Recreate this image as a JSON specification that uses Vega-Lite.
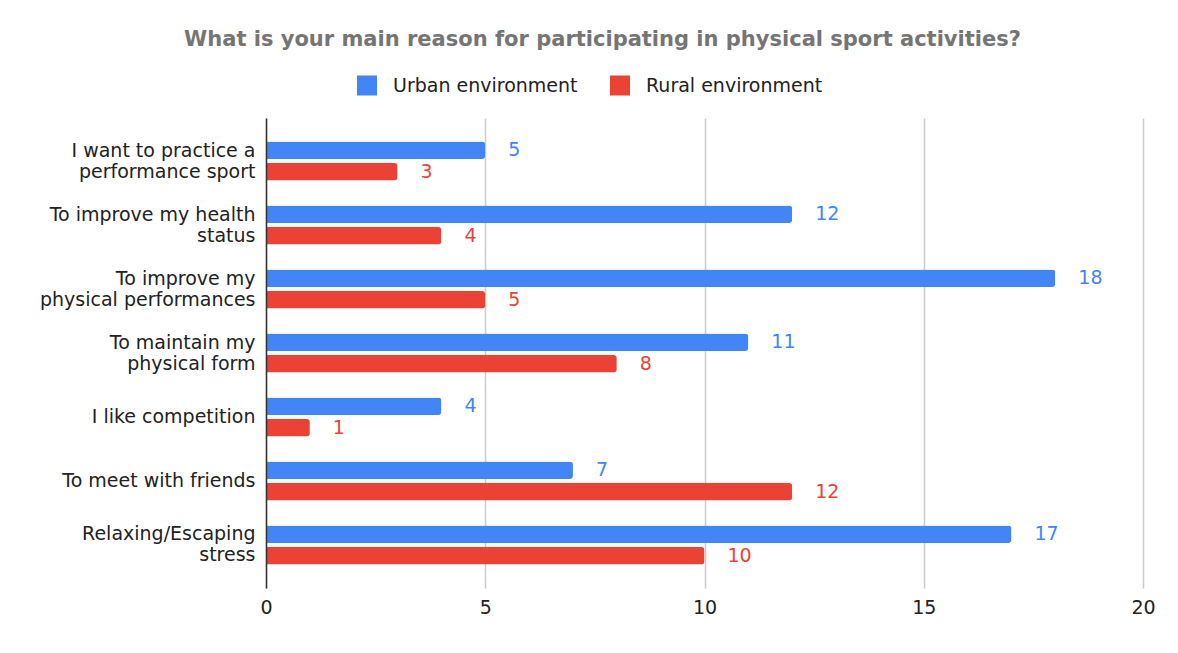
{
  "$schema": "https://vega.github.io/schema/vega-lite/v6.json",
  "width": 877,
  "height": 470,
  "autosize": {"type": "none"},
  "padding": {"left": 266, "top": 118, "right": 35, "bottom": 65},
  "background": "white",
  "config": {"view": {"stroke": null}},
  "title": {
    "text": "What is your main reason for participating in physical sport activities?",
    "anchor": "middle",
    "frame": "group",
    "dx": -102,
    "offset": 8.5,
    "baseline": "alphabetic",
    "font": "DejaVu Sans",
    "fontSize": 21,
    "fontWeight": "bold",
    "color": "#757575"
  },
  "data": {
    "values": [
      {"reason": "I want to practice a performance sport", "environment": "Urban environment", "count": 5},
      {"reason": "I want to practice a performance sport", "environment": "Rural environment", "count": 3},
      {"reason": "To improve my health status", "environment": "Urban environment", "count": 12},
      {"reason": "To improve my health status", "environment": "Rural environment", "count": 4},
      {"reason": "To improve my physical performances", "environment": "Urban environment", "count": 18},
      {"reason": "To improve my physical performances", "environment": "Rural environment", "count": 5},
      {"reason": "To maintain my physical form", "environment": "Urban environment", "count": 11},
      {"reason": "To maintain my physical form", "environment": "Rural environment", "count": 8},
      {"reason": "I like competition", "environment": "Urban environment", "count": 4},
      {"reason": "I like competition", "environment": "Rural environment", "count": 1},
      {"reason": "To meet with friends", "environment": "Urban environment", "count": 7},
      {"reason": "To meet with friends", "environment": "Rural environment", "count": 12},
      {"reason": "Relaxing/Escaping stress", "environment": "Urban environment", "count": 17},
      {"reason": "Relaxing/Escaping stress", "environment": "Rural environment", "count": 10}
    ]
  },
  "encoding": {
    "y": {
      "field": "reason",
      "type": "nominal",
      "sort": ["I want to practice a performance sport", "To improve my health status", "To improve my physical performances", "To maintain my physical form", "I like competition", "To meet with friends", "Relaxing/Escaping stress"],
      "scale": {"paddingInner": 0.39, "paddingOuter": 0.367},
      "axis": {
        "title": null,
        "domain": true,
        "domainColor": "#333333",
        "domainWidth": 1.5,
        "ticks": false,
        "grid": false,
        "labelPadding": 11,
        "labelFont": "DejaVu Sans",
        "labelFontSize": 19,
        "labelColor": "#222222",
        "labelLineHeight": 21,
        "labelLimit": 0,
        "labelOffset": {"condition": {"test": "datum.value != 'I like competition' && datum.value != 'To meet with friends'", "value": -10.5}, "value": 0},
        "zindex": 1,
        "labelExpr": "datum.value == 'I want to practice a performance sport' ? ['I want to practice a', 'performance sport'] : datum.value == 'To improve my health status' ? ['To improve my health', 'status'] : datum.value == 'To improve my physical performances' ? ['To improve my', 'physical performances'] : datum.value == 'To maintain my physical form' ? ['To maintain my', 'physical form'] : datum.value == 'Relaxing/Escaping stress' ? ['Relaxing/Escaping', 'stress'] : datum.value"
      }
    },
    "yOffset": {
      "field": "environment",
      "type": "nominal",
      "sort": ["Urban environment", "Rural environment"],
      "scale": {"paddingInner": 0.186, "paddingOuter": 0}
    },
    "x": {
      "field": "count",
      "type": "quantitative",
      "scale": {"domain": [0, 20], "nice": false},
      "axis": {
        "title": null,
        "values": [0, 5, 10, 15, 20],
        "grid": true,
        "gridColor": "#cccccc",
        "gridWidth": 1.5,
        "domain": false,
        "ticks": false,
        "labelFlush": false,
        "labelPadding": 10,
        "labelFont": "DejaVu Sans",
        "labelFontSize": 19,
        "labelColor": "#222222"
      }
    },
    "color": {
      "field": "environment",
      "type": "nominal",
      "scale": {"domain": ["Urban environment", "Rural environment"], "range": ["#4285F4", "#EA4335"]},
      "legend": {
        "title": null,
        "orient": "none",
        "direction": "horizontal",
        "legendX": 91,
        "legendY": -42.5,
        "symbolType": "square",
        "symbolSize": 400,
        "symbolStrokeWidth": 0,
        "symbolOpacity": 1,
        "labelFont": "DejaVu Sans",
        "labelFontSize": 19,
        "labelColor": "#222222",
        "labelLimit": 400,
        "labelOffset": 16,
        "columnPadding": 32
      }
    }
  },
  "layer": [
    {"mark": {"type": "bar", "cornerRadiusEnd": 3}},
    {
      "mark": {"type": "text", "align": "left", "baseline": "middle", "dx": 23, "font": "DejaVu Sans", "fontSize": 19},
      "encoding": {"text": {"field": "count", "type": "quantitative"}}
    }
  ]
}
